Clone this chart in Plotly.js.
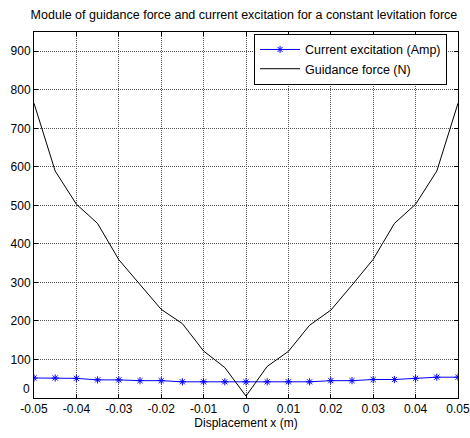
<!DOCTYPE html>
<html>
<head>
<meta charset="utf-8">
<script src="https://cdn.plot.ly/plotly-3.0.1.min.js"></script>
<style>html,body{margin:0;padding:0;background:#fff;}#chart{width:470px;height:438px;}</style>
</head>
<body>
<div id="chart"></div>
<script>
const displacement = [-0.05,-0.045,-0.04,-0.035,-0.03,-0.025,-0.02,-0.015,-0.01,-0.005,0,0.005,0.01,0.015,0.02,0.025,0.03,0.035,0.04,0.045,0.05];
const currentExcitation = [52,52,51,47,47,45,45,42,42,42,42,42,42,42,45,45,48,48,51,54,54];
const guidanceForce = [765,589,503,453,359,293,230,193,122,79,5,82,121,189,228,293,360,453,503,589,765];
const xTickVals = [-0.05,-0.04,-0.03,-0.02,-0.01,0,0.01,0.02,0.03,0.04,0.05];
const xTickText = ["-0.05","-0.04","-0.03","-0.02","-0.01","0","0.01","0.02","0.03","0.04","0.05"];
const yTickVals = [0,100,200,300,400,500,600,700,800,900];
const yTickText = ["0","100","200","300","400","500","600","700","800","900"];

const font = {family: "Liberation Sans, Arial, sans-serif", size: 12, color: "#000"};
const traces = [
  {x: displacement, y: currentExcitation, name: "Current excitation (Amp)", type: "scatter", mode: "lines+markers",
   line: {color: "#0000ff", width: 1}, marker: {symbol: "asterisk-open", size: 6, color: "#0000ff", line: {color: "#0000ff", width: 1}}},
  {x: displacement, y: guidanceForce, name: "Guidance force (N)", type: "scatter", mode: "lines",
   line: {color: "#000", width: 1}}
];
// The lowest y label is lifted slightly (as in the reference) to avoid touching the x labels
const yTickTextShown = yTickText.map((t, i) => i === 0 ? "" : t);
const axisCommon = {showline: true, linecolor: "#000", linewidth: 1, mirror: "ticks", ticks: "inside", ticklen: 4, tickcolor: "#000",
  showgrid: true, gridcolor: "#555", griddash: "1px,1px", gridwidth: 1, zeroline: false, tickfont: font, ticklabeloverflow: "allow"};
const layout = {
  width: 470, height: 438,
  margin: {l: 34, r: 12, t: 32, b: 40},
  paper_bgcolor: "#fff", plot_bgcolor: "#fff",
  font: font,
  title: {text: "Module of guidance force and current excitation for a constant levitation force", font: {family: font.family, size: 12.5, color: "#000"}, x: 0.519, xanchor: "center", y: 0.966, yanchor: "middle"},
  xaxis: Object.assign({}, axisCommon, {range: [-0.05, 0.05], tickvals: xTickVals, ticktext: xTickText,
    title: {text: "Displacement x (m)", font: font, standoff: 3}}),
  yaxis: Object.assign({}, axisCommon, {range: [0, 950], tickvals: yTickVals, ticktext: yTickTextShown}),
  annotations: [{xref: "paper", yref: "y", x: 0, y: yTickVals[0], text: yTickText[0], showarrow: false,
    xanchor: "right", yanchor: "middle", xshift: -2, yshift: 9, font: font}],
  showlegend: true,
  legend: {x: 0.519, y: 0.995, xanchor: "left", yanchor: "top", bgcolor: "#fff", bordercolor: "#000", borderwidth: 1,
    font: {family: font.family, size: 12.5, color: "#000"}, tracegroupgap: 0, itemwidth: 40}
};
Plotly.newPlot("chart", traces, layout, {displayModeBar: false, staticPlot: true});
</script>
</body>
</html>
